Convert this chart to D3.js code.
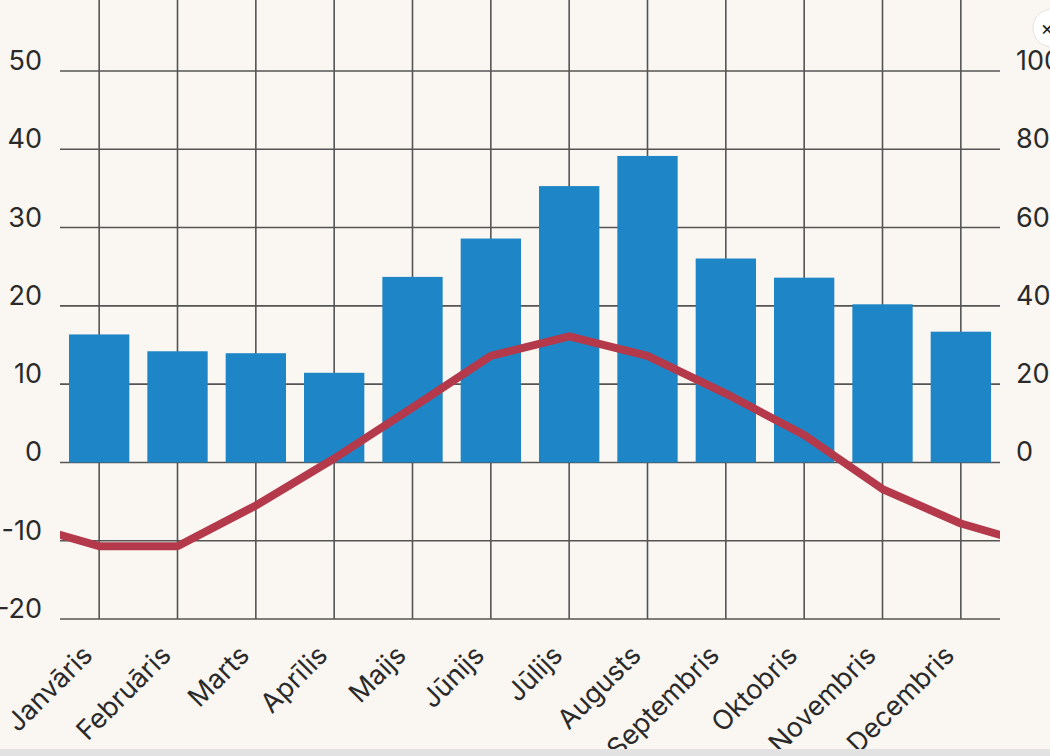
<!DOCTYPE html>
<html>
<head>
<meta charset="utf-8">
<script src="https://cdn.jsdelivr.net/npm/d3@7"></script>
<style>
  html, body { margin: 0; padding: 0; background: #faf7f3; overflow: hidden; }
  svg { display: block; font-family: "Inter", "Open Sans", sans-serif; }
</style>
</head>
<body>
<div id="chart"></div>
<script>
// Months (Latvian)
const months = ['Janvāris', 'Februāris', 'Marts', 'Aprīlis', 'Maijs', 'Jūnijs',
    'Jūlijs', 'Augusts', 'Septembris', 'Oktobris', 'Novembris', 'Decembris'];

// Precipitation, mm (right axis)
const precipitation = [32.7, 28.4, 27.9, 22.9, 47.4, 57.2, 70.6, 78.3, 52.1, 47.2, 40.4, 33.4];

// Temperature, °C (left axis)
const temperature = [-10.7, -10.7, -5.5, 0.5, 7.0, 13.6, 16.1, 13.6, 8.8, 3.5, -3.4, -7.8];

const leftTicks = [-20, -10, 0, 10, 20, 30, 40, 50];
const rightTicks = [0, 20, 40, 60, 80, 100];

const width = 1050, height = 756;
const plot = { left: 60, right: 1000, top: 71, bottom: 619 };

const svg = d3.select('#chart')
    .append('svg')
    .attr('width', width)
    .attr('height', height);

svg.append('rect')
    .attr('width', width).attr('height', height)
    .attr('fill', '#faf7f3');

const x = d3.scaleBand()
    .domain(months)
    .range([plot.left, plot.right])
    .paddingInner(0.23)
    .paddingOuter(0.115);

const xc = d => x(d) + x.bandwidth() / 2;
const step = x.step();

const yLeft = d3.scaleLinear().domain([-20, 50]).range([plot.bottom, plot.top]);
const yRight = d3.scaleLinear().domain([-40, 100]).range([plot.bottom, plot.top]);

// grid
const grid = svg.append('g')
    .attr('stroke', '#545454')
    .attr('stroke-width', 1.6);

grid.selectAll('.hline')
    .data(leftTicks)
    .enter().append('line')
    .attr('x1', plot.left).attr('x2', plot.right)
    .attr('y1', d => yLeft(d)).attr('y2', d => yLeft(d));

grid.selectAll('.vline')
    .data(months)
    .enter().append('line')
    .attr('x1', d => xc(d)).attr('x2', d => xc(d))
    .attr('y1', 0).attr('y2', plot.bottom);

// bars
svg.append('g')
    .selectAll('rect')
    .data(months)
    .enter().append('rect')
    .attr('x', d => x(d))
    .attr('width', x.bandwidth())
    .attr('y', (d, i) => yRight(precipitation[i]))
    .attr('height', (d, i) => yRight(0) - yRight(precipitation[i]))
    .attr('fill', '#1e86c6');

// temperature line, wrapping December before January and January after December
const linePts = [[xc(months[0]) - step, temperature[11]]]
    .concat(months.map((m, i) => [xc(m), temperature[i]]))
    .concat([[xc(months[11]) + step, temperature[0]]]);

svg.append('clipPath').attr('id', 'clip')
    .append('rect')
    .attr('x', plot.left).attr('y', 0)
    .attr('width', plot.right - plot.left).attr('height', height);

svg.append('path')
    .datum(linePts)
    .attr('clip-path', 'url(#clip)')
    .attr('fill', 'none')
    .attr('stroke', '#b3394b')
    .attr('stroke-width', 8)
    .attr('stroke-linejoin', 'round')
    .attr('d', d3.line().x(d => d[0]).y(d => yLeft(d[1])));

// left axis labels
svg.append('g')
    .selectAll('text')
    .data(leftTicks)
    .enter().append('text')
    .attr('x', 42)
    .attr('y', d => yLeft(d) - 1)
    .attr('text-anchor', 'end')
    .attr('font-size', 27)
    .attr('fill', '#2a2a2a')
    .text(d => d);

// right axis labels
svg.append('g')
    .selectAll('text')
    .data(rightTicks)
    .enter().append('text')
    .attr('x', 1016)
    .attr('y', d => yRight(d) - 1)
    .attr('text-anchor', 'start')
    .attr('font-size', 27)
    .attr('fill', '#2a2a2a')
    .text(d => d);

// month labels
svg.append('g')
    .selectAll('text')
    .data(months)
    .enter().append('text')
    .attr('transform', d => 'translate(' + (xc(d) - 5) + ',657) rotate(-45)')
    .attr('text-anchor', 'end')
    .attr('font-size', 27)
    .attr('fill', '#2a2a2a')
    .text(d => d);

// bottom scrollbar strip and close button (screenshot chrome)
svg.append('rect')
    .attr('x', 0).attr('y', 749)
    .attr('width', width).attr('height', 7)
    .attr('fill', '#e2e2e2');

svg.append('circle')
    .attr('cx', 1052).attr('cy', 28).attr('r', 19)
    .attr('fill', '#ffffff')
    .attr('stroke', '#e6e3df');
svg.append('text')
    .attr('x', 1047).attr('y', 35)
    .attr('text-anchor', 'middle')
    .attr('font-size', 20)
    .attr('fill', '#222')
    .text('×');
</script>
</body>
</html>
